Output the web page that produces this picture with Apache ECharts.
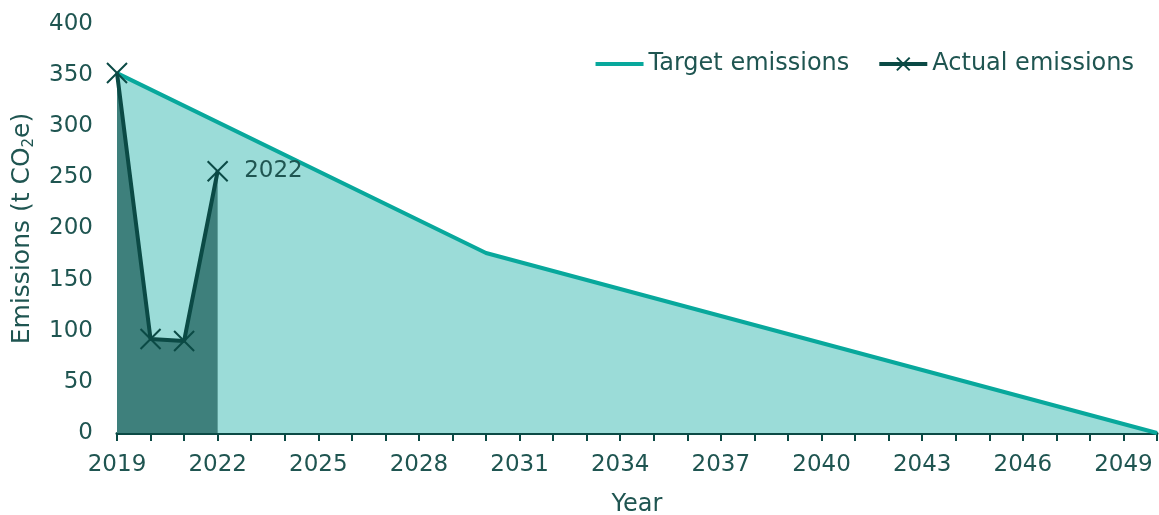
<!DOCTYPE html>
<html>
<head>
<meta charset="utf-8">
<script src="https://cdn.jsdelivr.net/npm/echarts@6/dist/echarts.min.js"></script>
<style>
  html, body { margin: 0; padding: 0; background: #fff; }
  #chart { width: 1159px; height: 515px; }
</style>
</head>
<body>
<div id="chart"></div>
<script>
// target path: 2019 baseline, halved by 2030, net zero in 2050
const targetYears = [2019, 2030, 2050];
const targetValues = [352, 176, 0];

// measured emissions
const actualYears = [2019, 2020, 2021, 2022];
const actualValues = [352, 92, 90, 256];

const labelEvery = 3;
const textColor = '#1f5551';
const darkColor = '#0b4a45';
const targetColor = '#08a89c';
const crossPath = 'path://M0,0L10,10M10,0L0,10';

const chart = echarts.init(document.getElementById('chart'));

const option = {
    animation: false,
    textStyle: { fontFamily: 'DejaVu Sans' },
    grid: { left: 117, right: 2, top: 24, bottom: 82, outerBoundsMode: 'none', containLabel: false },
    legend: {
        right: 20,
        top: 47,
        itemWidth: 48,
        itemHeight: 16,
        itemGap: 28,
        textStyle: { color: textColor, fontSize: 24 },
        data: [
            { name: 'Target emissions', itemStyle: { opacity: 0 }, lineStyle: { width: 4 } },
            { name: 'Actual emissions', lineStyle: { width: 4 } }
        ]
    },
    xAxis: {
        type: 'value',
        min: 2019,
        max: 2050,
        interval: 1,
        name: 'Year',
        nameLocation: 'middle',
        nameGap: 60,
        nameTextStyle: { color: textColor, fontSize: 24 },
        splitLine: { show: false },
        axisLine: { lineStyle: { color: darkColor, width: 3 } },
        axisTick: { length: 8, lineStyle: { color: darkColor, width: 2 } },
        axisLabel: {
            color: textColor,
            fontSize: 23,
            margin: 21,
            formatter: function (v) {
                return (v - 2019) % labelEvery === 0 ? String(v) : '';
            }
        }
    },
    yAxis: {
        type: 'value',
        min: 0,
        max: 400,
        interval: 50,
        name: '{m|Emissions (t CO}{sub|2}{m|e)}',
        nameLocation: 'middle',
        nameGap: 80,
        nameTextStyle: {
            color: textColor,
            fontSize: 25,
            rich: {
                m: { color: textColor, fontSize: 25, fontFamily: 'DejaVu Sans' },
                sub: { color: textColor, fontSize: 15, fontFamily: 'DejaVu Sans', verticalAlign: 'bottom', padding: [14, 0, 0, 0] }
            }
        },
        splitLine: { show: false },
        axisLine: { show: false },
        axisTick: { show: false },
        axisLabel: { color: textColor, fontSize: 23, margin: 24 }
    },
    series: [
        {
            name: 'Target emissions',
            type: 'line',
            data: targetYears.map((y, i) => [y, targetValues[i]]),
            symbol: 'none',
            z: 1,
            lineStyle: { color: targetColor, width: 4 },
            itemStyle: { color: targetColor },
            areaStyle: { color: '#9bdcd8', opacity: 1 }
        },
        {
            name: 'Actual emissions',
            type: 'line',
            data: actualYears.map((y, i) => [y, actualValues[i]]),
            symbol: crossPath,
            symbolSize: 20,
            z: 3,
            lineStyle: { color: darkColor, width: 4 },
            itemStyle: { color: 'none', borderColor: darkColor, borderWidth: 2 },
            areaStyle: { color: '#3e807c', opacity: 1 },
            label: {
                show: true,
                position: 'right',
                distance: 14,
                color: textColor,
                fontSize: 23,
                formatter: function (p) {
                    return p.dataIndex === actualYears.length - 1 ? String(p.value[0]) : '';
                }
            }
        }
    ]
};

chart.setOption(option);
</script>
</body>
</html>
